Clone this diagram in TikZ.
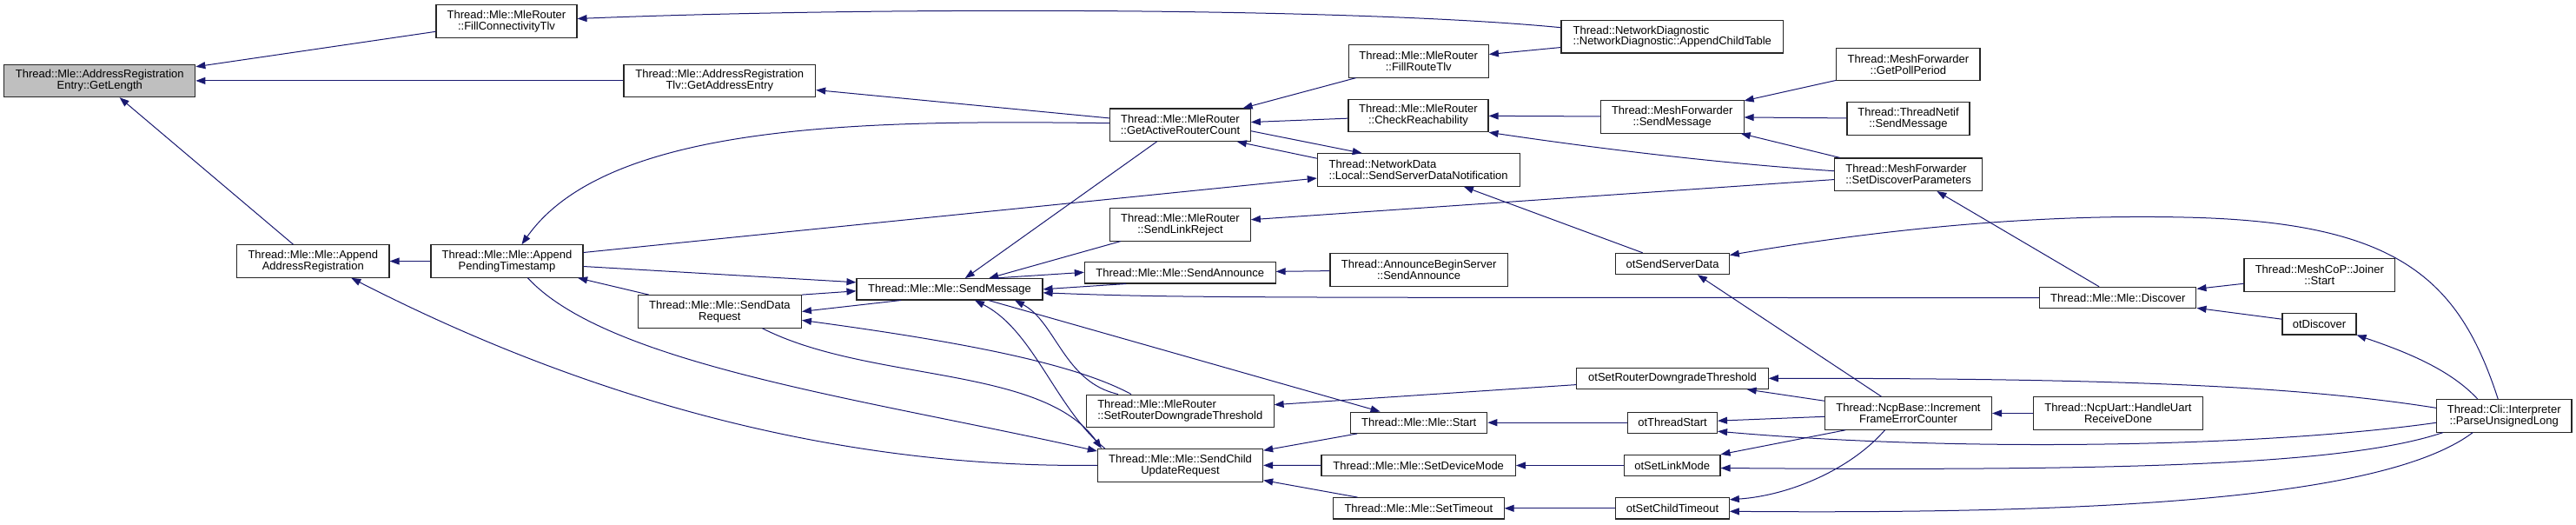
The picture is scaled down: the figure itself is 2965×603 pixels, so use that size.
\documentclass[tikz,border=0pt]{standalone}
\usepackage{fontspec}
\setmainfont{Liberation Sans}
\usepackage{tikz}
\usetikzlibrary{arrows.meta}
\definecolor{edgeblue}{HTML}{191970}
\definecolor{rootgray}{HTML}{BFBFBF}
\definecolor{boxline}{HTML}{262626}
\begin{document}
\begin{tikzpicture}[x=1pt, y=-1pt, >={Triangle[length=11pt,width=8pt]},
  fn/.style={draw=boxline, line width=1.1pt, fill=white, align=center, inner sep=0pt,
    minimum height=37.5pt, font=\fontsize{13}{12.8}\selectfont},
  fn1/.style={fn, minimum height=24.3pt},
  cl/.style={<-, draw=edgeblue, line width=1pt}]
  \useasboundingbox (0,0) rectangle (2965,603);

  \node[fn, fill=rootgray, minimum width=220pt] (len) at (114.8,92.9) {Thread::Mle::AddressRegistration\\Entry::GetLength};
  \node[fn, minimum width=162pt] (fct) at (583,24.5) {Thread::Mle::MleRouter\\::FillConnectivityTlv};
  \node[fn, minimum width=220.7pt] (gae) at (828.3,92.9) {Thread::Mle::AddressRegistration\\Tlv::GetAddressEntry};
  \node[fn, minimum width=175.4pt] (aar) at (360.3,300.5) {Thread::Mle::Mle::Append\\AddressRegistration};
  \node[fn, minimum width=175pt] (apt) at (583.5,300.5) {Thread::Mle::Mle::Append\\PendingTimestamp};
  \node[fn, minimum width=188pt] (sdr) at (828.4,358.4) {Thread::Mle::Mle::SendData\\Request};
  \node[fn1, minimum width=214pt] (smsg) at (1093,332.8) {Thread::Mle::Mle::SendMessage};
  \node[fn, minimum width=161.6pt] (garc) at (1358.5,143.7) {Thread::Mle::MleRouter\\::GetActiveRouterCount};
  \node[fn, minimum width=161.6pt] (slr) at (1358.5,258.3) {Thread::Mle::MleRouter\\::SendLinkReject};
  \node[fn1, minimum width=219.7pt] (sann) at (1358.2,313.8) {Thread::Mle::Mle::SendAnnounce};
  \node[fn, align=left, minimum width=215.5pt] (srdt) at (1358.3,472.8) {Thread::Mle::MleRouter\\::SetRouterDowngradeThreshold};
  \node[fn, minimum width=190.2pt] (scur) at (1358.5,535.3) {Thread::Mle::Mle::SendChild\\UpdateRequest};
  \node[fn, minimum width=161.3pt] (frt) at (1632.7,70.3) {Thread::Mle::MleRouter\\::FillRouteTlv};
  \node[fn, minimum width=161pt] (crch) at (1632.5,133) {Thread::Mle::MleRouter\\::CheckReachability};
  \node[fn, align=left, minimum width=232.7pt] (ssdn) at (1632.7,195.5) {Thread::NetworkData\\::Local::SendServerDataNotification};
  \node[fn, minimum width=204.2pt] (absa) at (1633.1,310.3) {Thread::AnnounceBeginServer\\::SendAnnounce};
  \node[fn1, minimum width=157pt] (start) at (1633.2,486.2) {Thread::Mle::Mle::Start};
  \node[fn1, minimum width=223.4pt] (sdm) at (1632.7,535.5) {Thread::Mle::Mle::SetDeviceMode};
  \node[fn1, minimum width=196.3pt] (sto) at (1632.9,584.8) {Thread::Mle::Mle::SetTimeout};
  \node[fn, align=left, minimum width=255.6pt] (ndiag) at (1924.8,42.2) {Thread::NetworkDiagnostic\\::NetworkDiagnostic::AppendChildTable};
  \node[fn, minimum width=164.7pt] (mfsm) at (1924.7,134.3) {Thread::MeshForwarder\\::SendMessage};
  \node[fn1, minimum width=130.6pt] (otssd) at (1925,303.5) {otSendServerData};
  \node[fn1, minimum width=220.4pt] (otsrdt) at (1925,435.3) {otSetRouterDowngradeThreshold};
  \node[fn1, minimum width=103pt] (otts) at (1925,486.2) {otThreadStart};
  \node[fn1, minimum width=110.6pt] (otslm) at (1924.7,535.5) {otSetLinkMode};
  \node[fn1, minimum width=130.6pt] (otsct) at (1925,584.8) {otSetChildTimeout};
  \node[fn, minimum width=165.2pt] (gpp) at (2196.4,74) {Thread::MeshForwarder\\::GetPollPeriod};
  \node[fn, minimum width=141pt] (tnsm) at (2196.5,136.5) {Thread::ThreadNetif\\::SendMessage};
  \node[fn, align=left, minimum width=169.8pt] (sdp) at (2196.6,200.7) {Thread::MeshForwarder\\::SetDiscoverParameters};
  \node[fn, minimum width=191.9pt] (ncp) at (2196.5,475.5) {Thread::NcpBase::Increment\\FrameErrorCounter};
  \node[fn1, minimum width=180.4pt] (disc) at (2437.7,342.5) {Thread::Mle::Mle::Discover};
  \node[fn, minimum width=194.4pt] (huart) at (2438,475.5) {Thread::NcpUart::HandleUart\\ReceiveDone};
  \node[fn, minimum width=173.6pt] (join) at (2669.8,316.5) {Thread::MeshCoP::Joiner\\::Start};
  \node[fn1, minimum width=85pt] (otdisc) at (2669.5,372.8) {otDiscover};
  \node[fn, minimum width=155.5pt] (pul) at (2882.2,478.3) {Thread::Cli::Interpreter\\::ParseUnsignedLong};

  \draw[cl] (len) -- (fct);
  \draw[cl] (len) -- (gae);
  \draw[cl] (len) -- (aar);
  \draw[cl] ([yshift=3pt]fct.east) .. controls (1000,8) and (1550,8) .. ([yshift=10.5pt]ndiag.west);
  \draw[cl] (gae) -- (garc);
  \draw[cl] (aar) -- (apt);
  \draw[cl] ([xshift=44pt]aar.south) .. controls (600,420) and (900,540) .. (scur.west);
  \draw[cl] ([xshift=17pt]apt.north) .. controls (700,140) and (1000,138) .. ([yshift=2pt]garc.west);
  \draw[cl] ([yshift=-9.5pt]ssdn.west) -- ([yshift=10pt]apt.east);
  \draw[cl] ([yshift=8pt]smsg.west) -- ([yshift=-6pt]apt.east);
  \draw[cl] (apt) -- (sdr);
  \draw[cl] ([yshift=-3pt]scur.north west) .. controls (1000,460) and (700,420) .. ([xshift=24pt]apt.south);
  \draw[cl] ([yshift=-2pt]smsg.west) -- (sdr.north east);
  \draw[cl] (sdr.east) -- ([xshift=-56pt]smsg.south);
  \draw[cl] ([yshift=-10pt]sdr.east) .. controls (1120,395) and (1240,420) .. ([xshift=52pt]srdt.north west);
  \draw[cl] ([xshift=5pt]scur.north west) .. controls (1200,420) and (1000,440) .. ([xshift=49pt]sdr.south);
  \draw[cl] ([xshift=29pt]smsg.south) .. controls (1190,380) and (1215,470) .. ([xshift=9pt]scur.north west);
  \draw[cl] ([xshift=75pt]smsg.south) .. controls (1215,370) and (1225,440) .. ([xshift=37pt]srdt.north west);
  \draw[cl] (start) -- (smsg);
  \draw[cl] ([yshift=0.5pt]sann.west) -- ([xshift=50pt]smsg.north);
  \draw[cl] (smsg.east) -- ([xshift=-62pt]sann.south);
  \draw[cl] ([yshift=-4pt]smsg.east) .. controls (1350,342.5) and (1400,342.5) .. (disc.west);
  \draw[cl] (smsg) -- (garc);
  \draw[cl] (smsg) -- (slr);
  \draw[cl] (garc) -- (frt);
  \draw[cl] (garc) -- (crch);
  \draw[cl] ([xshift=-65pt]ssdn.north) -- ([yshift=-7pt]garc.east);
  \draw[cl] ([xshift=-16pt]garc.south east) -- ([yshift=-6pt]ssdn.north west);
  \draw[cl] (frt) -- (ndiag);
  \draw[cl] (crch) -- (mfsm);
  \draw[cl] (crch.south east) .. controls (1800,165) and (1950,186) .. ([yshift=4pt]sdp.west);
  \draw[cl] (mfsm) -- (gpp);
  \draw[cl] (mfsm) -- (tnsm);
  \draw[cl] (mfsm) -- (sdp);
  \draw[cl] (slr) -- (sdp);
  \draw[cl] (ssdn) -- (otssd);
  \draw[cl] ([yshift=10pt]otssd.east) .. controls (2100,275) and (2300,245) .. (2514,250)
    .. controls (2760,255) and (2830,320) .. ([xshift=-7pt]pul.north);
  \draw[cl] (sdp) -- (disc);
  \draw[cl] (sann) -- (absa);
  \draw[cl] ([xshift=29pt]otssd.south) -- ([xshift=-31pt]ncp.north);
  \draw[cl] (srdt) -- (otsrdt);
  \draw[cl] (otsrdt.east) .. controls (2450,435) and (2650,445) .. ([yshift=9pt]pul.west);
  \draw[cl] (otsrdt) -- (ncp);
  \draw[cl] (start) -- (otts);
  \draw[cl] (otts) -- (ncp);
  \draw[cl] ([yshift=-10pt]otts.east) .. controls (2250,520) and (2600,515) .. ([yshift=-8pt]pul.west);
  \draw[cl] (scur) -- (start);
  \draw[cl] (scur) -- (sdm);
  \draw[cl] (scur) -- (sto);
  \draw[cl] (sdm) -- (otslm);
  \draw[cl] (sto) -- (otsct);
  \draw[cl] (otslm.north east) -- ([xshift=24pt]ncp.south west);
  \draw[cl] ([yshift=-3pt]otslm.east) .. controls (2450,542) and (2700,535) .. ([xshift=8pt]pul.south west);
  \draw[cl] ([yshift=10pt]otsct.east) .. controls (2060,570) and (2130,540) .. ([xshift=-27pt]ncp.south);
  \draw[cl] ([yshift=-3.5pt]otsct.east) .. controls (2450,592) and (2750,570) .. ([xshift=-36pt]pul.south);
  \draw[cl] (disc) -- (join);
  \draw[cl] (disc) -- (otdisc);
  \draw[cl] (otdisc.south east) .. controls (2770,405) and (2820,425) .. ([xshift=-30.5pt]pul.north);
  \draw[cl] (ncp) -- (huart);
\end{tikzpicture}
\end{document}
